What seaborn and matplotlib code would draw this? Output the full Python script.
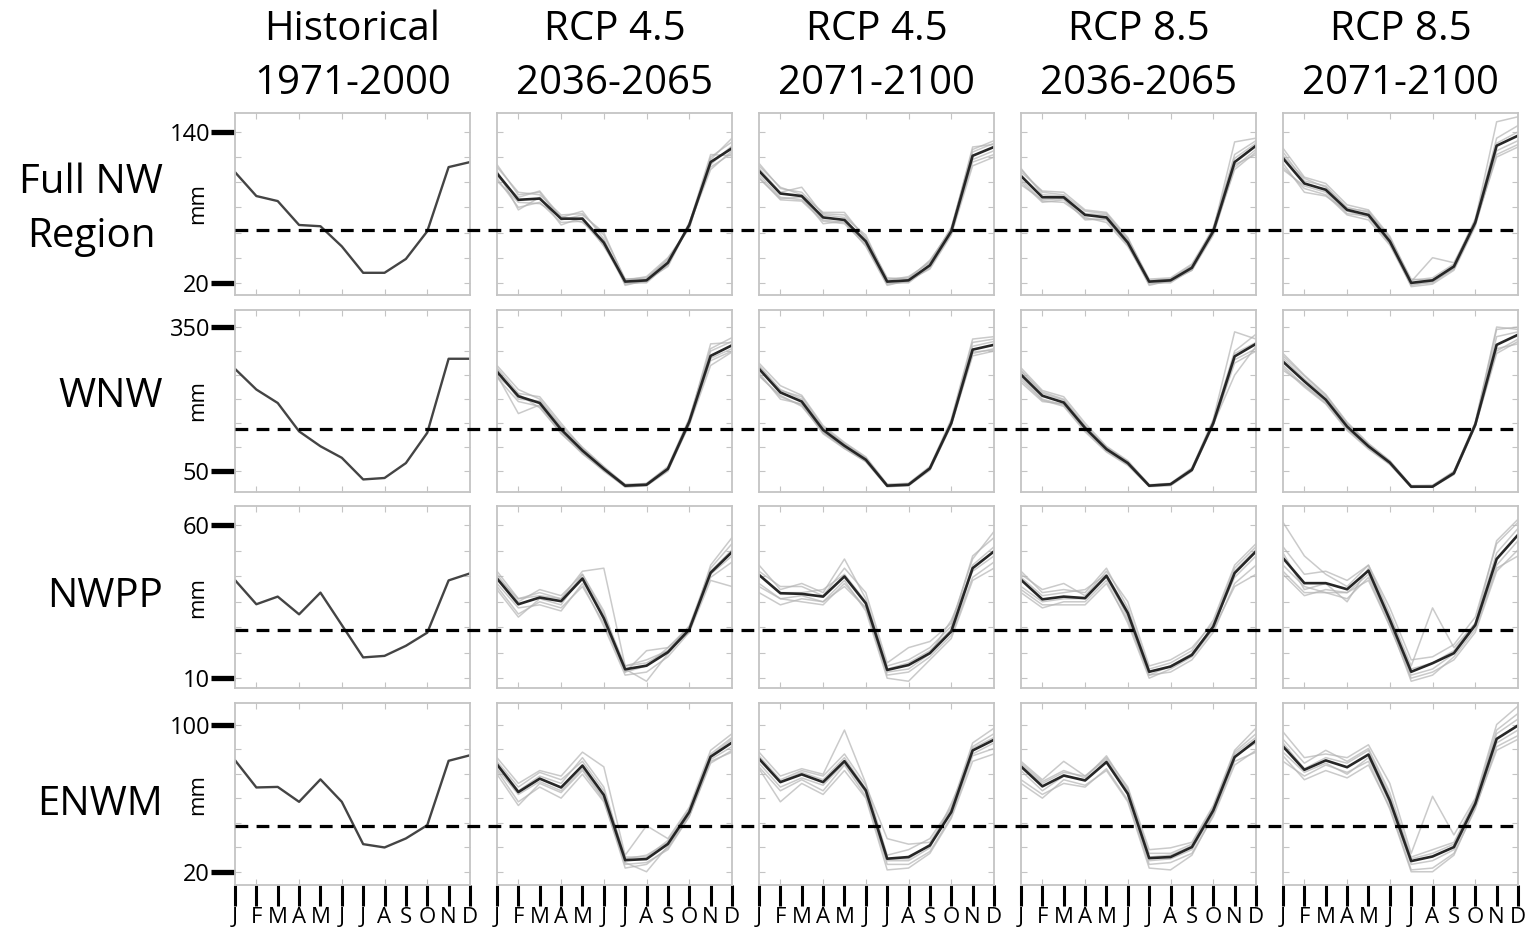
import numpy as np
import pandas as pd
import matplotlib
matplotlib.use("Agg")
import matplotlib.pyplot as plt
import seaborn as sns
from matplotlib.lines import Line2D
from matplotlib.transforms import blended_transform_factory

# ---------------------------------------------------------------- data
MONTH_LABELS = ["J", "F", "M", "A", "M", "J", "J", "A", "S", "O", "N", "D"]
MONTH_NUM = list(range(1, 13))
REGIONS = ["Full NW\nRegion", "WNW", "NWPP", "ENWM"]
PERIODS = ["Historical\n1971-2000", "RCP 4.5\n2036-2065", "RCP 4.5\n2071-2100",
           "RCP 8.5\n2036-2065", "RCP 8.5\n2071-2100"]
Y_TICK_VALUES = [(20, 140), (50, 350), (10, 60), (20, 100)]
Y_LIMITS = [(10.5, 155), (7.8, 386), (6.7, 66.2), (12.8, 111.6)]
BASELINE = [62, 138, 25.8, 45]

# ---- Full NW Region
full_hist = [108, 89, 85, 66, 65, 49, 28, 28, 39, 61, 112, 116]
full_45_mid = [107, 86, 87, 71, 71, 52, 21, 22, 36, 66, 116, 127]
full_45_late = [109, 91, 89, 72, 70, 53, 21, 22, 34, 61, 121, 128]
full_85_mid = [105, 88, 88, 74, 72, 52, 21, 22, 32, 61, 116, 129]
full_85_late = [119, 99, 94, 78, 74, 53, 20, 22, 33, 68, 129, 137]
full_45_mid_members = [
    [112, 92, 90, 74, 75, 58, 23, 24, 38, 64, 120, 132],
    [103, 80, 84, 68, 69, 50, 19, 21, 34, 68, 112, 123],
    [114, 90, 92, 70, 74, 60, 22, 25, 40, 63, 118, 135],
    [101, 84, 83, 73, 68, 54, 20, 20, 35, 67, 122, 121],
    [109, 78, 88, 66, 72, 49, 23, 23, 39, 65, 114, 129],
    [105, 88, 93, 72, 77, 55, 18, 22, 33, 66, 110, 125]]
full_45_late_members = [
    [115, 95, 92, 75, 74, 56, 23, 24, 37, 63, 126, 133],
    [104, 86, 85, 69, 67, 50, 19, 21, 32, 60, 116, 122],
    [111, 92, 96, 74, 72, 58, 22, 25, 36, 64, 124, 131],
    [106, 88, 86, 70, 68, 51, 20, 20, 33, 59, 118, 125],
    [113, 96, 90, 76, 76, 55, 24, 23, 38, 62, 128, 130],
    [103, 87, 88, 67, 69, 49, 18, 22, 31, 58, 113, 120]]
full_85_mid_members = [
    [110, 92, 90, 77, 75, 55, 23, 24, 35, 63, 122, 133],
    [100, 84, 86, 71, 70, 50, 19, 21, 30, 60, 110, 124],
    [108, 93, 92, 78, 76, 56, 22, 23, 34, 62, 132, 135],
    [102, 85, 84, 72, 68, 49, 20, 20, 31, 59, 114, 122],
    [111, 90, 89, 75, 74, 54, 21, 23, 33, 64, 119, 131],
    [98, 86, 87, 70, 71, 51, 18, 22, 30, 58, 112, 126]]
full_85_late_members = [
    [127, 104, 99, 82, 78, 57, 22, 24, 35, 70, 148, 152],
    [112, 95, 90, 74, 70, 50, 18, 21, 31, 66, 122, 130],
    [124, 101, 97, 80, 76, 56, 21, 40, 36, 69, 135, 145],
    [115, 92, 89, 77, 72, 52, 17, 19, 30, 65, 125, 133],
    [121, 103, 96, 79, 77, 55, 23, 22, 34, 71, 131, 140],
    [110, 97, 92, 75, 73, 51, 19, 20, 32, 67, 120, 128]]

# ---- WNW
wnw_hist = [263, 220, 192, 133, 102, 78, 33, 36, 67, 130, 284, 284]
wnw_45_mid = [257, 206, 192, 137, 93, 55, 20, 22, 55, 153, 290, 312]
wnw_45_late = [263, 214, 195, 136, 103, 74, 20, 22, 56, 150, 303, 313]
wnw_85_mid = [251, 207, 193, 140, 96, 67, 20, 23, 53, 150, 289, 315]
wnw_85_late = [278, 237, 199, 143, 102, 68, 18, 18, 46, 147, 313, 334]
wnw_45_mid_members = [
    [270, 220, 200, 145, 100, 60, 22, 24, 60, 160, 305, 328],
    [245, 195, 185, 128, 88, 50, 18, 20, 50, 148, 280, 300],
    [265, 212, 205, 150, 98, 58, 21, 25, 58, 158, 300, 320],
    [250, 170, 188, 132, 90, 53, 19, 21, 52, 150, 285, 305],
    [262, 200, 196, 142, 96, 57, 23, 23, 57, 155, 315, 318],
    [248, 210, 182, 130, 86, 52, 17, 20, 54, 146, 270, 298]]
wnw_45_late_members = [
    [275, 228, 208, 145, 110, 80, 23, 25, 60, 158, 325, 330],
    [250, 205, 188, 128, 97, 70, 18, 20, 52, 145, 290, 300],
    [270, 220, 200, 140, 108, 78, 22, 24, 58, 155, 318, 325],
    [255, 200, 190, 130, 100, 72, 19, 21, 54, 148, 295, 305],
    [268, 218, 205, 142, 106, 76, 21, 23, 57, 152, 310, 320],
    [248, 208, 185, 132, 98, 70, 18, 20, 55, 147, 298, 302]]
wnw_85_mid_members = [
    [265, 218, 205, 150, 102, 72, 22, 25, 57, 155, 300, 335],
    [240, 198, 185, 132, 90, 62, 18, 20, 50, 145, 275, 300],
    [260, 215, 200, 145, 100, 70, 21, 24, 56, 158, 340, 325],
    [245, 200, 188, 135, 92, 64, 19, 21, 51, 147, 282, 305],
    [258, 212, 198, 143, 99, 69, 21, 23, 55, 152, 295, 318],
    [235, 195, 190, 138, 94, 65, 20, 22, 52, 148, 250, 310]]
wnw_85_late_members = [
    [295, 250, 210, 152, 108, 72, 20, 20, 50, 152, 350, 345],
    [265, 225, 190, 135, 96, 64, 17, 17, 43, 143, 295, 320],
    [290, 248, 208, 150, 106, 71, 20, 21, 49, 150, 345, 350],
    [270, 228, 192, 138, 98, 65, 16, 18, 44, 144, 305, 315],
    [285, 242, 205, 148, 104, 70, 19, 19, 48, 149, 330, 340],
    [260, 230, 195, 140, 100, 66, 18, 18, 45, 146, 300, 325]]

# ---- NWPP
nwpp_hist = [42.1, 34.2, 36.7, 30.9, 38.0, 27.4, 16.8, 17.3, 20.6, 24.9, 42.0, 44.3]
nwpp_45_mid = [42.6, 34.2, 36.4, 35.2, 42.6, 29.6, 12.9, 14.1, 18.5, 25.9, 44.5, 51.3]
nwpp_45_late = [43.8, 37.8, 37.6, 36.7, 43.3, 34.5, 12.7, 14.3, 18.2, 25.3, 46.0, 51.5]
nwpp_85_mid = [42.2, 35.8, 36.7, 36.2, 43.5, 31.3, 12.1, 13.8, 17.6, 26.9, 44.4, 51.5]
nwpp_85_late = [49.3, 41.1, 41.1, 39.1, 45.2, 29.1, 12.1, 14.9, 18.2, 27.4, 49.0, 56.9]
nwpp_45_mid_members = [
    [45, 36, 38, 36, 45, 46, 14, 15, 19, 27, 46, 54],
    [40, 31, 35, 33, 40, 28, 12, 19, 20, 26, 43, 48],
    [44, 35, 39, 37, 44, 31, 14, 16, 19, 25, 47, 56],
    [41, 33, 34, 32, 41, 27, 11, 12, 17, 25, 42, 40],
    [43, 36, 37, 36, 43, 30, 13, 9, 18, 26, 45, 52],
    [39, 30, 36, 34, 44, 32, 12, 14, 20, 27, 44, 50]]
nwpp_45_late_members = [
    [47, 39, 41, 38, 49, 36, 14, 16, 20, 27, 50, 56],
    [40, 36, 35, 34, 41, 33, 11, 12, 17, 24, 43, 48],
    [45, 40, 40, 37, 46, 38, 15, 20, 22, 28, 49, 58],
    [38, 34, 36, 35, 42, 32, 10, 9, 16, 23, 42, 46],
    [44, 38, 38, 39, 44, 35, 13, 15, 19, 26, 47, 53],
    [41, 36, 37, 35, 40, 33, 12, 13, 18, 29, 45, 50]]
nwpp_85_mid_members = [
    [45, 38, 39, 38, 46, 33, 13, 15, 19, 29, 47, 54],
    [39, 34, 34, 34, 41, 29, 11, 12, 16, 25, 41, 47],
    [44, 39, 41, 37, 45, 35, 14, 16, 20, 28, 46, 53],
    [38, 33, 35, 35, 42, 28, 10, 13, 17, 26, 40, 44],
    [43, 37, 38, 39, 44, 32, 12, 14, 18, 27, 45, 52],
    [40, 35, 36, 36, 43, 30, 11, 14, 18, 27, 43, 50]]
nwpp_85_late_members = [
    [61, 50, 44, 40, 47, 31, 14, 33, 20, 28, 55, 62],
    [45, 38, 38, 36, 43, 27, 10, 12, 16, 25, 45, 52],
    [53, 44, 45, 42, 47, 33, 16, 17, 21, 30, 54, 61],
    [47, 40, 38, 38, 44, 28, 9, 11, 17, 26, 46, 50],
    [51, 39, 41, 35, 46, 30, 13, 15, 19, 28, 51, 59],
    [44, 37, 39, 38, 42, 27, 11, 13, 18, 27, 47, 55]]

# ---- ENWM
enwm_hist = [80.6, 65.8, 66.1, 58.0, 70.2, 58.0, 35.0, 33.2, 38.1, 45.3, 80.3, 83.3]
enwm_45_mid = [78.3, 63.3, 70.6, 65.8, 77.7, 61.7, 26.3, 26.9, 35.1, 52.4, 82.5, 90.2]
enwm_45_late = [81.4, 68.7, 72.9, 68.7, 80.1, 64.2, 27.1, 28.0, 34.3, 52.4, 85.9, 91.7]
enwm_85_mid = [77.2, 66.4, 72.3, 69.6, 79.6, 62.4, 27.4, 28.0, 33.4, 53.3, 82.3, 91.3]
enwm_85_late = [88.1, 75.4, 80.5, 76.8, 83.7, 58.7, 25.8, 28.3, 33.4, 57.0, 92.2, 99.5]
enwm_45_mid_members = [
    [82, 68, 75, 72, 85, 77, 29, 45, 38, 55, 86, 95],
    [75, 58, 66, 60, 73, 58, 24, 25, 32, 50, 79, 86],
    [80, 66, 74, 70, 80, 64, 28, 28, 37, 54, 84, 93],
    [73, 56, 68, 63, 75, 59, 22, 24, 33, 50, 80, 85],
    [79, 64, 72, 68, 82, 66, 27, 29, 36, 53, 83, 92],
    [76, 62, 69, 64, 76, 60, 25, 20, 34, 51, 81, 88]]
enwm_45_late_members = [
    [85, 72, 76, 73, 97, 68, 29, 32, 38, 55, 90, 98],
    [77, 64, 70, 64, 78, 61, 24, 24, 31, 50, 83, 87],
    [83, 70, 75, 72, 84, 67, 38, 35, 36, 54, 88, 95],
    [76, 58, 68, 62, 75, 60, 21, 22, 30, 49, 80, 84],
    [82, 69, 74, 70, 82, 65, 27, 27, 35, 53, 87, 93],
    [79, 66, 71, 67, 79, 63, 26, 26, 33, 57, 84, 90]]
enwm_85_mid_members = [
    [80, 70, 80, 72, 82, 66, 32, 33, 36, 56, 86, 98],
    [70, 62, 68, 66, 76, 59, 24, 25, 30, 50, 78, 86],
    [79, 69, 75, 71, 83, 65, 30, 30, 35, 55, 85, 95],
    [68, 60, 70, 67, 75, 58, 22, 21, 29, 51, 80, 85],
    [78, 68, 74, 72, 81, 64, 28, 29, 34, 54, 84, 93],
    [75, 64, 72, 70, 80, 62, 26, 27, 32, 52, 83, 90]]
enwm_85_late_members = [
    [96, 82, 84, 82, 89, 68, 30, 61, 40, 60, 100, 110],
    [83, 70, 75, 71, 78, 55, 21, 22, 30, 54, 88, 94],
    [92, 79, 86, 80, 87, 63, 28, 32, 36, 59, 97, 106],
    [80, 72, 78, 74, 80, 54, 20, 20, 29, 55, 86, 92],
    [90, 76, 82, 79, 86, 61, 27, 30, 35, 58, 95, 103],
    [85, 74, 79, 73, 82, 57, 24, 26, 32, 56, 90, 97]]

MEANS = [
    [full_hist, full_45_mid, full_45_late, full_85_mid, full_85_late],
    [wnw_hist, wnw_45_mid, wnw_45_late, wnw_85_mid, wnw_85_late],
    [nwpp_hist, nwpp_45_mid, nwpp_45_late, nwpp_85_mid, nwpp_85_late],
    [enwm_hist, enwm_45_mid, enwm_45_late, enwm_85_mid, enwm_85_late],
]
MEMBERS = [
    [None, full_45_mid_members, full_45_late_members, full_85_mid_members, full_85_late_members],
    [None, wnw_45_mid_members, wnw_45_late_members, wnw_85_mid_members, wnw_85_late_members],
    [None, nwpp_45_mid_members, nwpp_45_late_members, nwpp_85_mid_members, nwpp_85_late_members],
    [None, enwm_45_mid_members, enwm_45_late_members, enwm_85_mid_members, enwm_85_late_members],
]

# ---------------------------------------------------------------- style
sns.set_style("white")
plt.rcParams["font.family"] = ["Open Sans", "DejaVu Sans"]
plt.rcParams["text.color"] = "black"
plt.rcParams["axes.labelcolor"] = "black"
plt.rcParams["xtick.color"] = "black"
plt.rcParams["ytick.color"] = "black"

W, H = 1529, 927
fig = plt.figure(figsize=(W / 100, H / 100), dpi=100)
LEFT, RIGHT, TOP, BOTTOM = 235 / W, 1518 / W, 1 - 113 / H, 1 - 885 / H
axes = fig.subplots(4, 5, gridspec_kw=dict(left=LEFT, right=RIGHT, top=TOP, bottom=BOTTOM,
                                          wspace=0.115, hspace=0.082))

SPINE = "#c4c4c4"
MEMBER_COLOR = "#b4b4b4"

for r in range(4):
    lo, hi = Y_TICK_VALUES[r]
    for c in range(5):
        ax = axes[r, c]
        members = MEMBERS[r][c]
        if members is not None:
            df = pd.DataFrame([(m, MONTH_NUM[i], v) for m, row in enumerate(members)
                               for i, v in enumerate(row)], columns=["member", "month", "mm"])
            sns.lineplot(data=df, x="month", y="mm", units="member", estimator=None,
                         color=MEMBER_COLOR, alpha=0.7, lw=1.1, legend=False, ax=ax)
            sns.lineplot(x=MONTH_NUM, y=MEANS[r][c], color="#262626", lw=1.9, ax=ax)
        else:
            sns.lineplot(x=MONTH_NUM, y=MEANS[r][c], color="#444444", lw=1.7, ax=ax)

        ax.set_xlim(1, 12)
        ax.set_ylim(*Y_LIMITS[r])
        ax.set_xlabel("")
        ax.set_ylabel("")
        for s in ax.spines.values():
            s.set_color(SPINE)
            s.set_linewidth(1.3)

        # inner light ticks
        ax.xaxis.remove_overlapping_locs = False
        ax.yaxis.remove_overlapping_locs = False
        ax.set_yticks(np.linspace(lo, hi, 7), minor=True)
        ax.set_xticks([2, 4, 6, 8, 10], minor=True)
        ax.tick_params(which="minor", direction="in", length=4, width=0.8, color=SPINE,
                       left=True, right=True, top=True, bottom=True)

        if c == 0:
            ax.set_yticks([lo, hi])
            ax.set_yticklabels([str(lo), str(hi)])
            ax.tick_params(axis="y", which="major", direction="out", length=17, width=3.8,
                           color="black", labelcolor="black", labelsize=17, pad=1,
                           left=True, right=False)
            ax.set_ylabel("mm", fontsize=16, color="black")
            ax.yaxis.set_label_coords(-0.115, 0.5)
        else:
            ax.set_yticks([])

        if r == 3:
            ax.set_xticks(MONTH_NUM)
            ax.set_xticklabels(MONTH_LABELS)
            ax.tick_params(axis="x", which="major", direction="out", length=15, width=2.2,
                           color="black", labelcolor="black", labelsize=16, pad=1,
                           bottom=True, top=False)
        else:
            ax.set_xticks([])

# column titles
for c in range(5):
    pos = axes[0, c].get_position()
    fig.text((pos.x0 + pos.x1) / 2, 1 - 57 / H, PERIODS[c], ha="center", va="center",
             fontsize=29, linespacing=1.45, color="black")

# row labels
ROW_CENTER_PX = [210, 397, 597, 805]
for r in range(4):
    fig.text(163 / W, 1 - ROW_CENTER_PX[r] / H, REGIONS[r],
             ha="right", va="center", multialignment="center", fontsize=29,
             linespacing=1.45, color="black")

# dashed reference line across each row
for r in range(4):
    trans = blended_transform_factory(fig.transFigure, axes[r, 0].transData)
    fig.add_artist(Line2D([LEFT, RIGHT], [BASELINE[r], BASELINE[r]], transform=trans,
                          color="black", lw=2.3, dashes=(4, 2.6), zorder=5))

fig.savefig("out.png", dpi=100)
